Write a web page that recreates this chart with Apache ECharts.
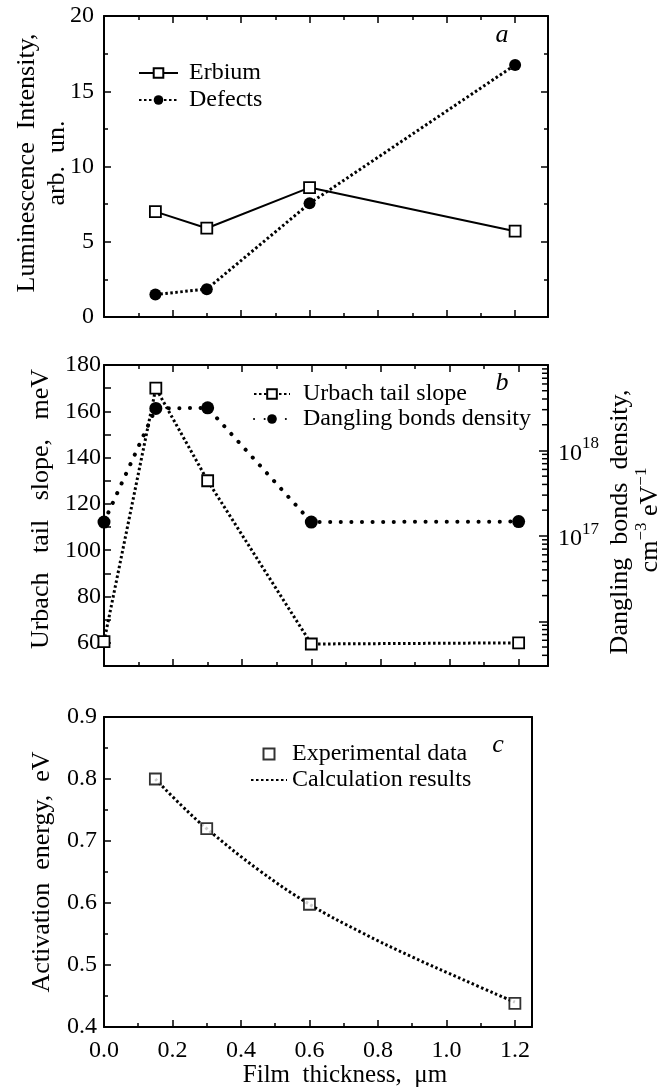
<!DOCTYPE html>
<html>
<head>
<meta charset="utf-8">
<script src="https://cdn.jsdelivr.net/npm/echarts@6/dist/echarts.min.js"></script>
<style>
html,body{margin:0;padding:0;background:#fff;}
#c{width:663px;height:1087px;}
</style>
</head>
<body>
<div id="c"></div>
<script>
// ---------- data ----------
const thicknessA = [0.15, 0.3, 0.6, 1.2];
const erbium = [7.0, 5.9, 8.6, 5.7];
const defects = [1.5, 1.85, 7.55, 16.75];

const thicknessB = [0.0, 0.15, 0.3, 0.6, 1.2];
const urbach = [60.5, 170, 130, 59.5, 60];
const dangling = [1.45e17, 3.1e18, 3.15e18, 1.45e17, 1.47e17];

const thicknessC = [0.15, 0.3, 0.6, 1.2];
const activationExp = [0.80, 0.72, 0.598, 0.438];
const calcThickness = [0.15, 0.225, 0.3, 0.45, 0.6, 0.75, 0.9, 1.05, 1.2];
const calcEnergy = [0.80, 0.758, 0.72, 0.654, 0.598, 0.553, 0.513, 0.476, 0.44];

const xTickLabels = [0.0, 0.2, 0.4, 0.6, 0.8, 1.0, 1.2];
const yTicksA = [0, 5, 10, 15, 20];
const yTicksB = [60, 80, 100, 120, 140, 160, 180];
const yTicksC = [0.4, 0.5, 0.6, 0.7, 0.8, 0.9];
const logLabelExps = [17, 18];
const logMajorExps = [16, 17, 18];

// ---------- helpers ----------
const FONT = '"Liberation Serif","DejaVu Serif",serif';
const BLACK = '#000';
const zip = (xs, ys) => xs.map((x, i) => [x, ys[i]]);
const logMin = 3e15, logMax = 1e19;
const xMaxB = 1.285;
// minor decade tick positions k * 10^n on the right log axis
const logMinor = [];
for (let n = 15; n <= 18; n++) for (let k = 2; k <= 9; k++) {
  const v = k * Math.pow(10, n);
  if (v >= logMin && v <= logMax) logMinor.push(v);
}

function xAx(grid, max, opts) {
  return Object.assign({
    type: 'value', gridIndex: grid, min: 0, max: max, interval: 0.2,
    axisLine: {show: true, onZero: false, lineStyle: {color: BLACK, width: 2}},
    axisTick: {show: true, inside: true, length: 7, lineStyle: {color: BLACK, width: 1.5}},
    minorTick: {show: true, splitNumber: 2, length: 4, lineStyle: {color: BLACK, width: 1.5}},
    axisLabel: {show: false},
    splitLine: {show: false}, minorSplitLine: {show: false}
  }, opts || {});
}
function yAx(grid, min, max, interval, opts) {
  return Object.assign({
    type: 'value', gridIndex: grid, min: min, max: max, interval: interval,
    axisLine: {show: true, onZero: false, lineStyle: {color: BLACK, width: 2}},
    axisTick: {show: true, inside: true, length: 7, lineStyle: {color: BLACK, width: 1.5}},
    minorTick: {show: true, splitNumber: 2, length: 4, lineStyle: {color: BLACK, width: 1.5}},
    axisLabel: {show: false},
    splitLine: {show: false}, minorSplitLine: {show: false}
  }, opts || {});
}
const tickLabelStyle = {color: BLACK, fontFamily: FONT, fontSize: 24};

const option = {
  animation: false,
  backgroundColor: '#fff',
  grid: [
    {left: 104, top: 16, width: 444, height: 301},
    {left: 104, top: 365, width: 444, height: 301},
    {left: 104, top: 717, width: 428, height: 310}
  ],
  xAxis: [
    xAx(0, 1.296, {position: 'bottom'}),
    xAx(0, 1.296, {position: 'top'}),
    xAx(1, xMaxB, {position: 'bottom'}),
    xAx(1, xMaxB, {position: 'top'}),
    xAx(2, 1.25, {position: 'bottom',
      axisLabel: Object.assign({show: true, margin: 12,
        customValues: xTickLabels,
        formatter: v => v.toFixed(1)}, tickLabelStyle)}),
    xAx(2, 1.25, {position: 'top', axisTick: {show: false}, minorTick: {show: false}})
  ],
  yAxis: [
    yAx(0, 0, 20, 5, {position: 'left',
      axisLabel: Object.assign({show: true, margin: 10, customValues: yTicksA,
        formatter: v => String(v)}, tickLabelStyle)}),
    yAx(0, 0, 20, 5, {position: 'right'}),
    yAx(1, 50, 180, 10, {position: 'left', minorTick: {show: false},
      axisLabel: Object.assign({show: true, margin: 3, customValues: yTicksB,
        formatter: v => String(v)}, tickLabelStyle)}),
    {
      type: 'log', gridIndex: 1, position: 'right', min: logMin, max: logMax, logBase: 10,
      axisLine: {show: true, onZero: false, lineStyle: {color: BLACK, width: 2}},
      axisTick: {show: true, inside: true, length: 9, customValues: logMajorExps.map(e => Math.pow(10, e)),
        lineStyle: {color: BLACK, width: 1.5}},
      minorTick: {show: false},
      splitLine: {show: false},
      axisLabel: {show: true, margin: 10, customValues: logLabelExps.map(e => Math.pow(10, e)),
        formatter: v => '{b|10}{s|' + Math.round(Math.log10(v)) + '}',
        rich: {
          b: {fontFamily: FONT, fontSize: 24, color: BLACK, verticalAlign: 'bottom', lineHeight: 30},
          s: {fontFamily: FONT, fontSize: 17, color: BLACK, verticalAlign: 'top', lineHeight: 17}
        }}
    },
    yAx(2, 0.4, 0.9, 0.1, {position: 'left',
      axisLabel: Object.assign({show: true, margin: 7, customValues: yTicksC,
        formatter: v => v.toFixed(1)}, tickLabelStyle)}),
    yAx(2, 0.4, 0.9, 0.1, {position: 'right', axisTick: {show: false}, minorTick: {show: false}})
  ],
  legend: [
    {
      data: ['Erbium', 'Defects'], left: 138, top: 61, orient: 'vertical',
      itemWidth: 39, itemHeight: 12, itemGap: 3, padding: 0, selectedMode: false,
      textStyle: {fontFamily: FONT, fontSize: 24, color: BLACK, padding: [0, 0, 0, 6]}
    },
    {
      data: ['Urbach tail slope', 'Dangling bonds density'], left: 253, top: 382, orient: 'vertical',
      itemWidth: 36, itemHeight: 12, itemGap: 1, padding: 0, selectedMode: false,
      textStyle: {fontFamily: FONT, fontSize: 24, color: BLACK, padding: [0, 0, 0, 8]}
    },
    {
      data: [{name: 'Experimental data', icon: 'path://M0,0L10,0L10,10L0,10Z'}, 'Calculation results'],
      left: 250, top: 742, orient: 'vertical',
      itemWidth: 36, itemHeight: 11, itemGap: 2, padding: 0, selectedMode: false,
      textStyle: {fontFamily: FONT, fontSize: 24, color: BLACK, padding: [0, 0, 0, 0]}
    }
  ],
  series: [
    {
      name: 'Erbium', type: 'line', xAxisIndex: 0, yAxisIndex: 0,
      data: zip(thicknessA, erbium),
      symbol: 'rect', symbolSize: 11,
      lineStyle: {color: BLACK, width: 2},
      itemStyle: {color: '#fff', borderColor: BLACK, borderWidth: 1.8}, z: 3
    },
    {
      name: 'Defects', type: 'line', xAxisIndex: 0, yAxisIndex: 0,
      data: zip(thicknessA, defects),
      symbol: 'circle', symbolSize: 12,
      lineStyle: {color: BLACK, width: 3, type: [2.5, 2.5]},
      itemStyle: {color: BLACK, borderWidth: 0}, z: 4
    },
    {
      name: 'Urbach tail slope', type: 'line', xAxisIndex: 2, yAxisIndex: 2,
      data: zip(thicknessB, urbach),
      symbol: 'rect', symbolSize: 11,
      lineStyle: {color: BLACK, width: 3, type: [2.5, 2.5]},
      itemStyle: {color: '#fff', borderColor: BLACK, borderWidth: 1.8}, z: 4
    },
    {
      name: 'Dangling bonds density', type: 'line', xAxisIndex: 2, yAxisIndex: 3,
      data: zip(thicknessB, dangling),
      symbol: 'circle', symbolSize: 13,
      lineStyle: {color: BLACK, width: 4, type: [0.1, 10.5], cap: 'round'},
      itemStyle: {color: BLACK, borderWidth: 0}, z: 3
    },
    {
      // minor tick marks of the right-hand logarithmic axis, placed by the log scale
      name: 'logMinorTicks', type: 'line', xAxisIndex: 2, yAxisIndex: 3,
      data: logMinor.map(v => [xMaxB, v]),
      symbol: 'rect', symbolSize: [6, 1.5], symbolOffset: [-3, 0],
      showSymbol: true, showAllSymbol: true, clip: false,
      lineStyle: {width: 0, opacity: 0},
      itemStyle: {color: BLACK, borderWidth: 0}, silent: true, z: 10
    },
    {
      name: 'Calculation results', type: 'line', xAxisIndex: 4, yAxisIndex: 4,
      data: zip(calcThickness, calcEnergy),
      symbol: 'none', smooth: 0.4,
      lineStyle: {color: BLACK, width: 3, type: [2.5, 2.5]},
      itemStyle: {color: 'rgba(0,0,0,0)', borderWidth: 0}, z: 2
    },
    {
      name: 'Experimental data', type: 'scatter', xAxisIndex: 4, yAxisIndex: 4,
      data: zip(thicknessC, activationExp),
      symbol: 'rect', symbolSize: 11,
      itemStyle: {color: '#fff', borderColor: BLACK, borderWidth: 1.8}, z: 5
    }
  ],
  graphic: [
    txt('Luminescence  Intensity,', 27, 163, 26, true),
    txt('arb.  un.', 57, 163, 26, true),
    txt('Urbach   tail   slope,   meV', 41, 509, 26, true),
    txt('Dangling  bonds  density,', 620, 522, 26, true),
    {
      type: 'text', x: 648, y: 520, rotation: Math.PI / 2,
      style: {
        text: '{n|cm}{s|−3}{n| eV}{s|−1}',
        rich: {
          n: {fontFamily: FONT, fontSize: 26, fill: BLACK, verticalAlign: 'bottom', lineHeight: 30},
          s: {fontFamily: FONT, fontSize: 17, fill: BLACK, verticalAlign: 'top', lineHeight: 17}
        },
        align: 'center', verticalAlign: 'middle', textAlign: 'center', textVerticalAlign: 'middle'
      }
    },
    txt('Activation  energy,  eV', 42, 872, 26, true),
    txt('Film  thickness,  μm', 345, 1075, 25, false),
    txt('a', 502, 35, 26, false, true),
    txt('b', 502, 383, 26, false, true),
    txt('c', 498, 745, 26, false, true)
  ]
};

function txt(s, x, y, size, rotated, italic) {
  return {
    type: 'text', x: x, y: y, rotation: rotated ? Math.PI / 2 : 0,
    style: {
      text: s, fill: BLACK,
      font: (italic ? 'italic ' : '') + size + 'px ' + FONT,
      align: 'center', verticalAlign: 'middle', textAlign: 'center', textVerticalAlign: 'middle'
    }
  };
}

const chart = echarts.init(document.getElementById('c'), null, {renderer: 'canvas'});
chart.setOption(option);
</script>
</body>
</html>
